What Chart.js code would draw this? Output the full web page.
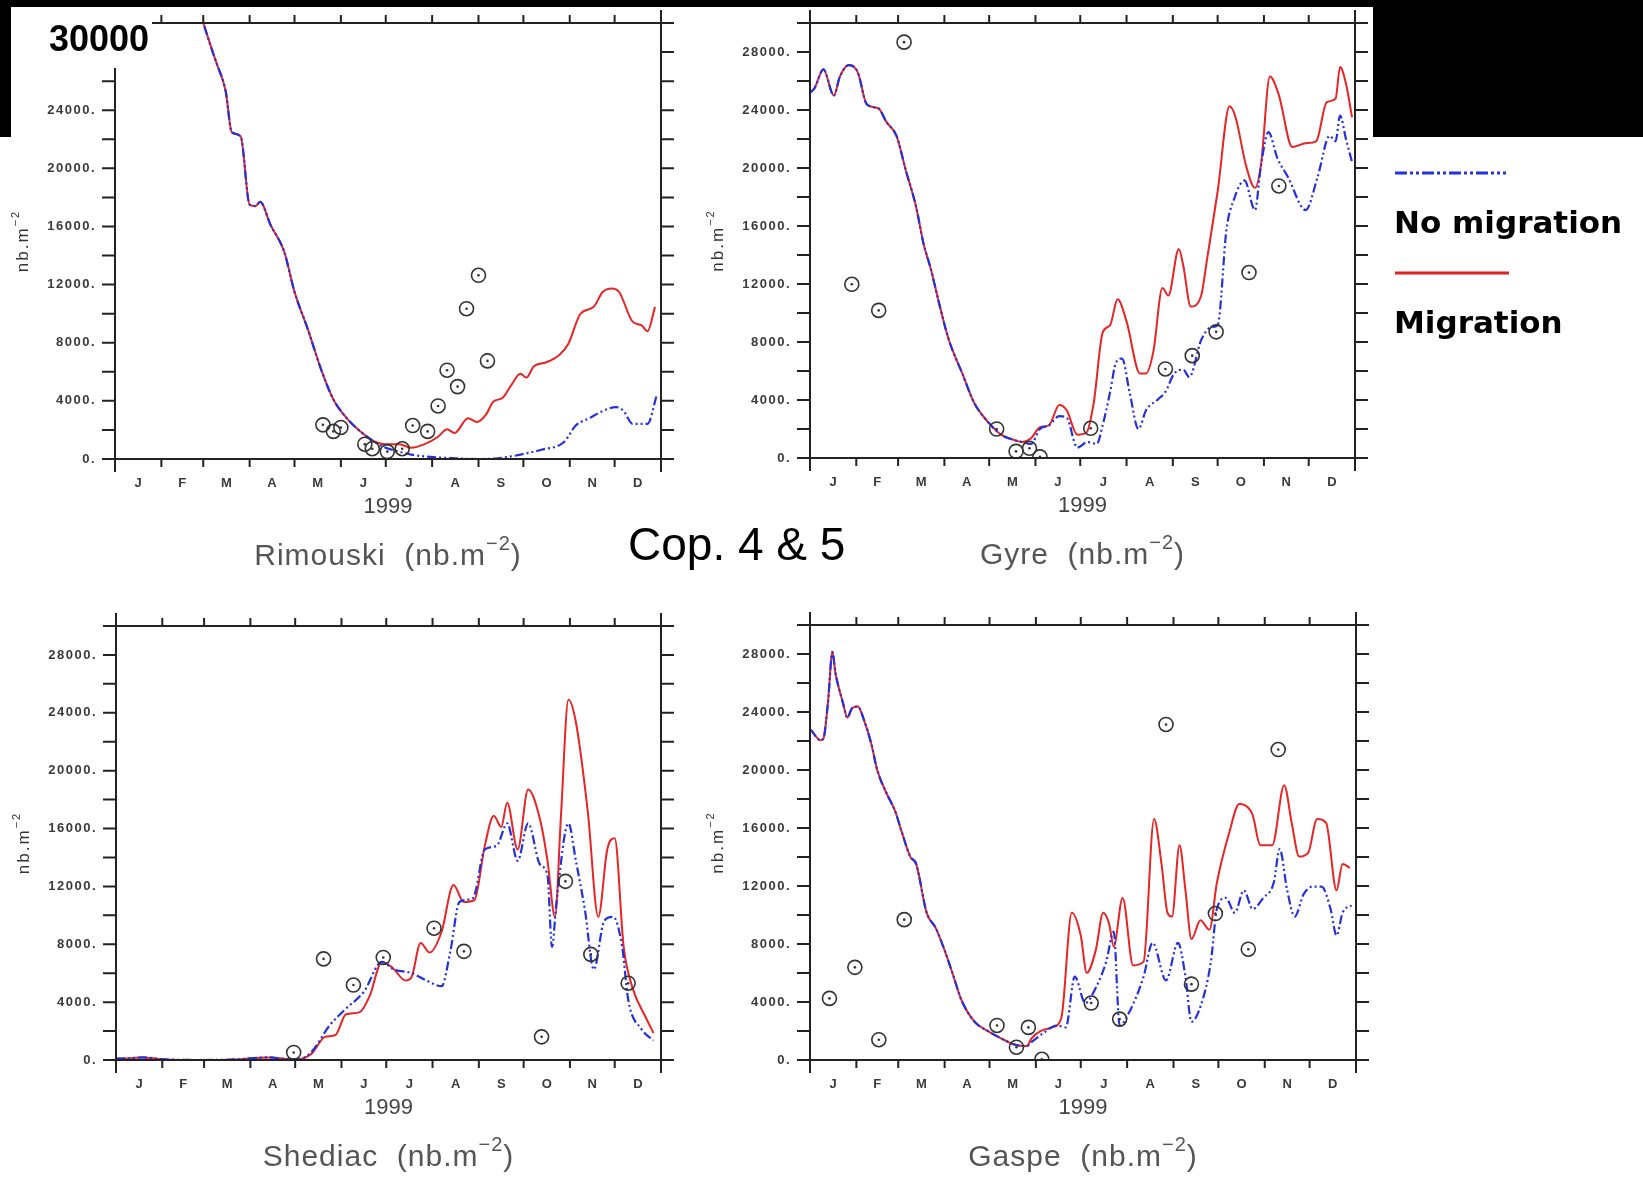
<!DOCTYPE html>
<html>
<head>
<meta charset="utf-8">
<script src="https://cdn.jsdelivr.net/npm/chart.js@4.4.0/dist/chart.umd.min.js"></script>
<style>
body{margin:0;background:#fff;width:1643px;height:1179px;position:relative;overflow:hidden;font-family:"Liberation Sans",Arial,sans-serif}
canvas{position:absolute}
#over{position:absolute;left:0;top:0;pointer-events:none}
</style>
</head>
<body>
<canvas id="rim" width="690" height="590" style="left:0;top:0"></canvas>
<canvas id="gyre" width="690" height="590" style="left:690px;top:0"></canvas>
<canvas id="shed" width="690" height="589" style="left:0;top:590px"></canvas>
<canvas id="gaspe" width="690" height="589" style="left:690px;top:590px"></canvas>
<svg id="over" width="1643" height="1179">
<rect x="0" y="0" width="1373" height="7" fill="#000"/>
<rect x="0" y="0" width="11" height="137" fill="#000"/>
<rect x="1373" y="0" width="270" height="137" fill="#000"/>
<rect x="11" y="7" width="141" height="61" fill="#fff"/>
<text x="49" y="51" font-family="Liberation Sans" font-weight="bold" font-size="36" fill="#000">30000</text>
<text x="628" y="560" font-family="Liberation Sans" font-size="46" fill="#000">Cop. 4 &amp; 5</text>
<line x1="1395" y1="173" x2="1506" y2="173" stroke="#2233dd" stroke-width="3" stroke-dasharray="12 3 3 3 3 3"/>
<text x="1394" y="233" font-family="DejaVu Sans" font-weight="bold" font-size="31" fill="#000">No migration</text>
<line x1="1395" y1="273" x2="1509" y2="273" stroke="#e02020" stroke-width="3"/>
<text x="1394" y="333" font-family="DejaVu Sans" font-weight="bold" font-size="31" fill="#000">Migration</text>
</svg>
<script>
// month axis
const monthStarts = [0,31,59,90,120,151,181,212,243,273,304,334,365];
const monthLabels = ["J","F","M","A","M","J","J","A","S","O","N","D"];
const yTickLabels = [0,4000,8000,12000,16000,20000,24000,28000];

// Rimouski
const rimSharedDay = [55,59,65,68,74,78,84,90,94,97,104,113,120,129,138,146,155,164,172];
const rimSharedVal = [31200,30000,28100,27200,25300,22500,22200,17500,17400,17700,16100,14300,11500,8900,6100,4100,2800,1900,1280];
const rimMigDay = [181,190,198,207,216,222,227,236,242,248,253,259,265,271,275,280,288,297,303,311,320,326,332,337,346,352,356,361];
const rimMigVal = [1020,1020,770,1020,1530,2040,1790,2800,2550,3060,3950,4200,5100,5870,5600,6380,6640,7150,7910,9960,10470,11490,11740,11490,9450,9190,8790,10470];
const rimNoMigDay = [181,190,198,213,227,242,256,271,285,300,308,317,326,335,340,346,356,362];
const rimNoMigVal = [770,510,300,130,50,0,50,300,640,1150,2300,2800,3300,3570,3300,2420,2420,4330];
const rimObsDay = [139,146,151,167,172,182,192,199,209,216,222,229,235,243,249];
const rimObsVal = [2350,1900,2170,1020,710,510,710,2300,1900,3650,6110,4980,10340,12640,6750];

// Gyre
const gyreSharedDay = [0,3,9,16,20,26,32,38,46,51,58,64,71,76,81,87,93,102,110,119,128,137,142];
const gyreSharedVal = [25200,25500,26800,25000,26300,27100,26600,24400,24100,23200,22200,19900,17350,14800,13000,10440,8140,5830,3790,2510,1610,1230,1100];
const gyreMigDay = [148,154,160,167,172,179,185,190,196,201,206,212,221,225,230,236,240,247,250,255,262,266,273,281,285,292,298,302,308,314,323,332,339,346,352,355,359,363];
const gyreMigVal = [1360,2120,2250,3660,3280,1610,1740,3790,8650,9160,10950,9420,5830,5830,7370,11720,11210,14410,13260,10440,11210,13770,18380,24260,23500,20170,18630,20170,26310,25030,21450,21710,21840,24530,24790,26970,25800,23500];
const gyreNoMigDay = [148,154,160,167,172,179,186,192,196,201,205,209,214,220,225,233,238,244,250,254,262,269,273,279,284,291,298,302,307,313,320,332,340,348,352,355,359,363];
const gyreNoMigVal = [970,2000,2250,2890,2760,720,1100,970,2250,4560,6600,6860,4560,2000,3280,4040,4560,5830,6090,5580,8140,9030,9160,15810,17860,19140,17100,20170,22470,20680,19400,17100,19400,22210,21840,23620,21970,20420];
const gyreObsDay = [28,46,63,125,138,147,154,188,238,256,272,294,314];
const gyreObsVal = [11980,10180,28680,2000,460,670,80,2050,6140,7060,8700,12790,18760];

// Shediac
const shedSharedDay = [0,10,18,30,58,80,102,115,122];
const shedSharedVal = [100,120,180,60,0,40,180,60,50];
const shedMigDay = [131,140,147,154,163,170,178,185,194,198,204,210,218,226,233,240,247,253,258,262,269,276,284,289,294,298,303,308,316,323,329,334,340,346,355,360];
const shedMigVal = [440,1600,1730,3160,3290,4450,6780,6390,5490,5750,8080,7430,8850,12090,10920,11050,14800,16880,16100,17780,14550,18700,16620,13770,9890,16880,24900,23350,17140,9890,14550,15320,7820,4970,2900,1860];
const shedNoMigDay = [131,143,154,166,178,186,198,208,218,224,230,239,247,255,262,269,276,284,289,292,295,303,308,314,320,327,333,339,343,352,360];
const shedNoMigVal = [570,2380,3550,4710,6780,6260,6010,5490,5100,7560,10920,11180,14550,14810,16360,13770,16360,13510,12740,7820,10920,16360,13770,10410,6260,9630,9890,7820,4190,2120,1350];
const shedObsDay = [119,139,159,179,213,233,285,301,318,343];
const shedObsVal = [520,6990,5180,7090,9110,7510,1600,12350,7300,5310];

// Gaspe
const gaspeSharedDay = [0,1,7,9,12,15,17,22,25,28,32,36,41,45,51,57,61,67,71,78,84,90,96,101,110,119,128,136,145];
const gaspeSharedVal = [22800,22700,22050,22180,24640,28140,26710,24640,23610,24250,24380,23480,21800,19980,18430,17140,15840,14030,13510,10150,9110,7560,5750,4190,2640,1990,1480,1090,960];
const gaspeMigDay = [148,154,162,168,175,181,185,191,196,200,203,209,216,223,230,235,239,242,247,251,255,261,267,272,280,287,293,296,301,309,317,322,327,333,339,345,352,356,361];
const gaspeMigVal = [1480,1990,2250,2900,10150,8590,6010,7560,10150,9370,7820,11180,6520,6780,16620,13510,10150,9890,14810,11700,8340,9630,8980,12220,15580,17660,17400,16880,14810,14810,18950,16360,14030,14290,16620,16360,11700,13510,13250];
const gaspeNoMigDay = [148,156,165,171,177,184,191,198,203,207,214,223,229,238,246,251,255,261,268,272,278,284,290,296,303,310,314,319,324,330,336,342,348,352,356,362];
const gaspeNoMigVal = [1220,1860,2380,2250,5750,3930,4970,6780,8850,2380,3420,5750,8080,5490,8080,5750,2640,3680,6780,10410,11180,10150,11700,10410,11180,12220,14550,11700,9890,11440,11960,11960,10410,8590,10150,10670];
const gaspeObsDay = [13,30,46,63,125,138,146,155,188,207,238,255,271,293,313];
const gaspeObsVal = [4250,6390,1400,9680,2380,880,2250,50,3930,2820,23140,5230,10100,7640,21410];

const RED = "#e82424";
const BLUE = "#2430dc";
const INK = "#222";

function pts(days, vals){
  return days.map((d,i)=>({x:d,y:vals[i]}));
}

function spacing(ctx, s){
  if (ctx.letterSpacing !== undefined) ctx.letterSpacing = s;
}

function supText(ctx, base, sup, tail, cx, cy, size){
  ctx.font = size + "px 'Liberation Sans', Arial";
  const w1 = ctx.measureText(base).width;
  const w3 = ctx.measureText(tail).width;
  ctx.font = Math.round(size*0.65) + "px 'Liberation Sans', Arial";
  const w2 = ctx.measureText(sup).width;
  let x = cx - (w1+w2+w3)/2;
  ctx.textAlign = "left";
  ctx.textBaseline = "middle";
  ctx.font = size + "px 'Liberation Sans', Arial";
  ctx.fillText(base, x, cy);
  ctx.font = Math.round(size*0.65) + "px 'Liberation Sans', Arial";
  ctx.fillText(sup, x+w1, cy - size*0.42);
  ctx.font = size + "px 'Liberation Sans', Arial";
  ctx.fillText(tail, x+w1+w2, cy);
}

const framePlugin = {
  id:"frame",
  afterDatasetsDraw(chart, args, opts){
    const {ctx, chartArea:a, scales:{x,y}} = chart;
    ctx.save();
    ctx.strokeStyle = INK;
    ctx.lineWidth = 2;
    ctx.beginPath();
    ctx.moveTo(a.left-13,a.top); ctx.lineTo(a.right+13,a.top);
    ctx.moveTo(a.left-13,a.bottom); ctx.lineTo(a.right+13,a.bottom);
    ctx.moveTo(a.left,a.top-13); ctx.lineTo(a.left,a.bottom+13);
    ctx.moveTo(a.right,a.top-13); ctx.lineTo(a.right,a.bottom+13);
    monthStarts.forEach(d=>{
      const px = x.getPixelForValue(d);
      ctx.moveTo(px,a.bottom); ctx.lineTo(px,a.bottom+8);
      ctx.moveTo(px,a.top); ctx.lineTo(px,a.top-8);
    });
    for(let v=0; v<=30000; v+=2000){
      const py = y.getPixelForValue(v);
      ctx.moveTo(a.left-13,py); ctx.lineTo(a.left,py);
      ctx.moveTo(a.right,py); ctx.lineTo(a.right+13,py);
    }
    ctx.stroke();

    ctx.fillStyle = "#3a3a3a";
    ctx.font = "bold 13px 'Liberation Sans', Arial";
    ctx.textAlign = "right";
    ctx.textBaseline = "middle";
    spacing(ctx, "1.5px");
    yTickLabels.forEach(v=>{
      ctx.fillText(v + ".", a.left-19, y.getPixelForValue(v));
    });
    spacing(ctx, "0px");
    ctx.textAlign = "center";
    ctx.font = "bold 13px 'Liberation Sans', Arial";
    monthLabels.forEach((m,i)=>{
      const px = x.getPixelForValue((monthStarts[i]+monthStarts[i+1])/2);
      ctx.fillText(m, px, a.bottom+24);
    });
    const cx = (a.left+a.right)/2;
    ctx.fillStyle = "#444";
    ctx.font = "22px 'Liberation Sans', Arial";
    ctx.fillText("1999", cx, a.bottom+48);

    ctx.fillStyle = "#555";
    spacing(ctx, "1px");
    supText(ctx, opts.title + "  (nb.m", "\u22122", ")", cx, a.bottom+98, 30);

    ctx.fillStyle = "#333";
    spacing(ctx, "2px");
    ctx.translate(a.left-92, (a.top+a.bottom)/2);
    ctx.rotate(-Math.PI/2);
    supText(ctx, "nb.m", "\u22122", "", 0, 0, 17);
    spacing(ctx, "0px");
    ctx.restore();
  }
};

function makePanel(id, title, pad, sharedDay, sharedVal, migDay, migVal, noDay, noVal, obsDay, obsVal){
  const obs = pts(obsDay, obsVal);
  new Chart(document.getElementById(id), {
    type:"line",
    data:{
      datasets:[
        {data:obs, showLine:false, pointRadius:7, pointBorderWidth:1.6,
         pointBorderColor:"#333", pointBackgroundColor:"rgba(0,0,0,0)", order:0},
        {data:obs, showLine:false, pointRadius:1.3, pointBorderWidth:0,
         pointBackgroundColor:"#333", order:0},
        {data:pts(sharedDay.concat(noDay), sharedVal.concat(noVal)), borderColor:BLUE,
         borderWidth:2.2, borderDash:[9,3,2,3,2,3], pointRadius:0, cubicInterpolationMode:"monotone", order:1},
        {data:pts(sharedDay.concat(migDay), sharedVal.concat(migVal)), borderColor:RED,
         borderWidth:2, pointRadius:0, cubicInterpolationMode:"monotone", order:2}
      ]
    },
    options:{
      responsive:false,
      animation:false,
      layout:{padding:pad},
      plugins:{legend:{display:false}, tooltip:{enabled:false}, frame:{title:title}},
      scales:{
        x:{type:"linear", min:0, max:365, display:false},
        y:{type:"linear", min:0, max:30000, display:false}
      }
    },
    plugins:[framePlugin]
  });
}

makePanel("rim", "Rimouski", {left:115,right:29,top:23,bottom:131},
  rimSharedDay, rimSharedVal, rimMigDay, rimMigVal, rimNoMigDay, rimNoMigVal, rimObsDay, rimObsVal);
makePanel("gyre", "Gyre", {left:120,right:25,top:23,bottom:132},
  gyreSharedDay, gyreSharedVal, gyreMigDay, gyreMigVal, gyreNoMigDay, gyreNoMigVal, gyreObsDay, gyreObsVal);
makePanel("shed", "Shediac", {left:116,right:29,top:36,bottom:119},
  shedSharedDay, shedSharedVal, shedMigDay, shedMigVal, shedNoMigDay, shedNoMigVal, shedObsDay, shedObsVal);
makePanel("gaspe", "Gaspe", {left:120,right:24,top:35,bottom:119},
  gaspeSharedDay, gaspeSharedVal, gaspeMigDay, gaspeMigVal, gaspeNoMigDay, gaspeNoMigVal, gaspeObsDay, gaspeObsVal);
</script>
</body>
</html>
